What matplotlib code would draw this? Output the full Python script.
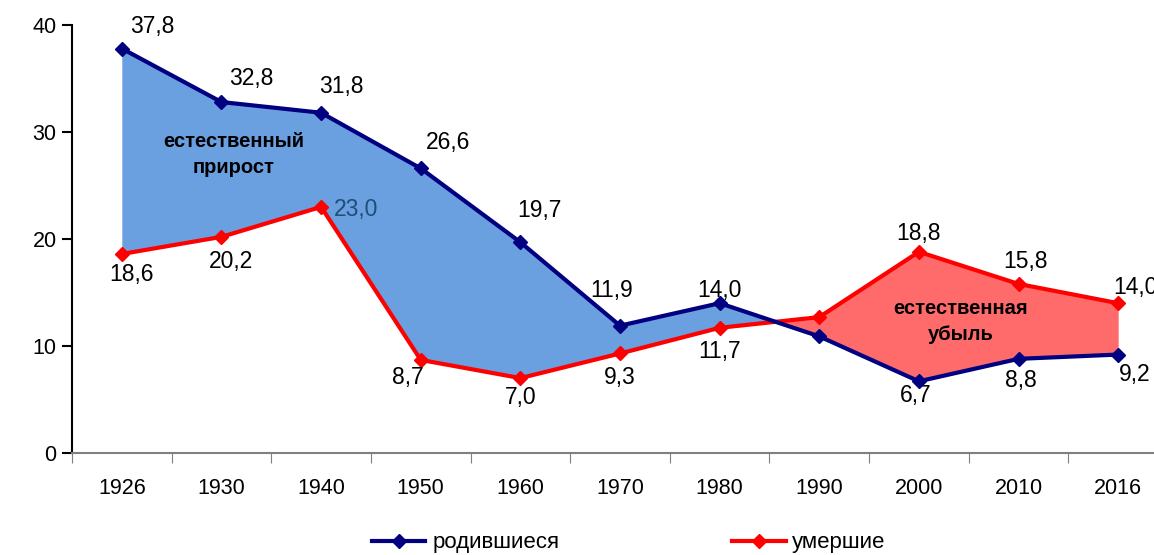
import numpy as np
import matplotlib.pyplot as plt

plt.rcParams['font.family'] = ['Liberation Sans', 'DejaVu Sans']

# data
years = ['1926', '1930', '1940', '1950', '1960', '1970', '1980', '1990', '2000', '2010', '2016']
births = [37.8, 32.8, 31.8, 26.6, 19.7, 11.9, 14.0, 10.9, 6.7, 8.8, 9.2]
deaths = [18.6, 20.2, 23.0, 8.7, 7.0, 9.3, 11.7, 12.7, 18.8, 15.8, 14.0]

# label offsets in pixels (dx, dy), None = no label
birth_off = [(30, 22), (30, 24), (20, 26), (27, 26), (19, 32), (-8, 35), (0, 13), None, (-3, -14), (2, -22), (17, -20)]
death_off = [(10, -21), (10, -25), (35, -3), (-13, -18), (0, -19), (0, -24), (0, -24), None, (0, 18), (7, 22), (17, 16)]

blue = '#000080'
red = '#ff0000'

fig = plt.figure(figsize=(11.54, 5.55), dpi=100)
ax = fig.add_axes([72/1154, 102/555, 1096/1154, 428/555])

x = np.arange(len(years))
b = np.array(births)
d = np.array(deaths)

#filled areas between the lines
ax.fill_between(x, b, d, where=b >= d, interpolate=True, color='#6a9fe0', lw=0)
ax.fill_between(x, b, d, where=b <= d, interpolate=True, color='#ff6b6b', lw=0)

ax.plot(x, d, color=red, lw=3, marker='D', ms=7, label='умершие', zorder=3)
ax.plot(x, b, color=blue, lw=3, marker='D', ms=7, label='родившиеся', zorder=4)

#data labels
def fmt(v):
    return f"{v:.1f}".replace('.', ',')

for i in range(len(years)):
    if birth_off[i] is not None:
        ax.annotate(fmt(births[i]), (x[i], births[i]), xytext=birth_off[i],
                    textcoords='offset pixels', ha='center', va='center', fontsize=16.5)
    if death_off[i] is not None:
        col = '#1f4e79' if i == 2 else 'black'
        ax.annotate(fmt(deaths[i]), (x[i], deaths[i]), xytext=death_off[i],
                    textcoords='offset pixels', ha='center', va='center', fontsize=16.5, color=col)

ax.text(1.12, 27.9, 'естественный\nприрост', ha='center', va='center', fontsize=14.5,
        fontweight='bold', linespacing=1.45)
ax.text(8.42, 12.3, 'естественная\nубыль', ha='center', va='center', fontsize=14.5,
        fontweight='bold', linespacing=1.45)

ax.set_xlim(-0.5, len(years) - 0.5)
ax.set_ylim(0, 40)
ax.set_yticks([0, 10, 20, 30, 40])
ax.set_xticks(np.arange(-0.5, len(years), 1.0))
ax.set_xticklabels([])
ax.set_xticks(x, minor=True)
ax.set_xticklabels(years, minor=True)
ax.tick_params(axis='x', which='minor', length=0, pad=18, labelsize=15.5)
ax.tick_params(axis='x', which='major', length=7, color='#808080', direction='out')
ax.tick_params(axis='y', length=7, width=1.5, labelsize=15.5, pad=4)

ax.spines['top'].set_visible(False)
ax.spines['right'].set_visible(False)
ax.spines['left'].set_linewidth(1.5)
ax.spines['bottom'].set_color('#808080')
ax.spines['bottom'].set_linewidth(1.5)

h, l = ax.get_legend_handles_labels()
fig.legend(h[::-1], l[::-1], loc='center', bbox_to_anchor=(0.545, 0.022), ncol=2,
           frameon=False, fontsize=16, handlelength=2.4, handletextpad=0.3,
           columnspacing=7.8)

fig.savefig('out.png', dpi=100)
